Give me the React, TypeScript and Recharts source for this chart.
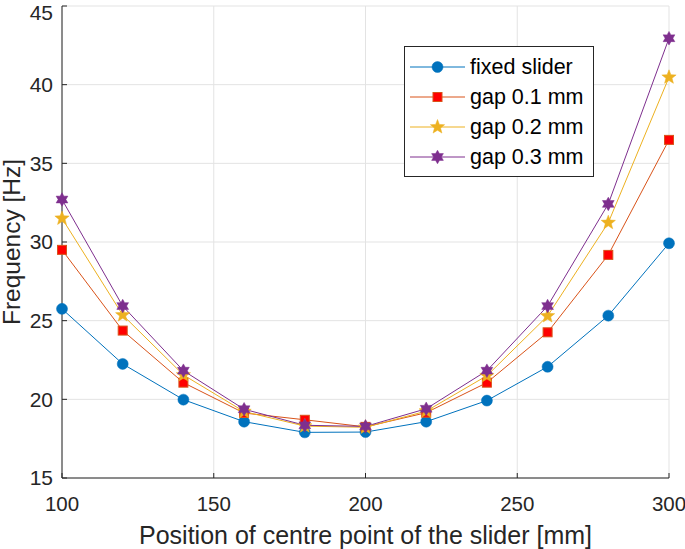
import React from "react";
import {
  LineChart,
  Line,
  XAxis,
  YAxis,
  CartesianGrid,
  Legend,
} from "recharts";

const positions = [100, 120, 140, 160, 180, 200, 220, 240, 260, 280, 300];
const fixedSlider = [25.75, 22.25, 19.98, 18.58, 17.9, 17.92, 18.58, 19.92, 22.07, 25.32, 29.92];
const gap01 = [29.5, 24.37, 21.06, 19.13, 18.7, 18.25, 19.15, 21.06, 24.26, 29.18, 36.49];
const gap02 = [31.5, 25.36, 21.55, 19.22, 18.3, 18.22, 19.25, 21.5, 25.3, 31.23, 40.47];
const gap03 = [32.7, 25.93, 21.82, 19.37, 18.35, 18.28, 19.4, 21.82, 25.93, 32.42, 42.95];

const xTicks = [100, 150, 200, 250, 300];
const yTicks = [15, 20, 25, 30, 35, 40, 45];

const seriesNames = ["fixed slider", "gap 0.1 mm", "gap 0.2 mm", "gap 0.3 mm"];

const data = positions.map((p, i) => ({
  pos: p,
  fixed: fixedSlider[i],
  g1: gap01[i],
  g2: gap02[i],
  g3: gap03[i],
}));

const FONT = "'Liberation Sans', Arial, Helvetica, sans-serif";
const AXIS = "#262626";

const BLUE = "#0072BD";
const ORANGE = "#D95319";
const YELLOW = "#EDB120";
const PURPLE = "#7E2F8E";

function starPoints(cx: number, cy: number, n: number, R: number, r: number) {
  const pts: string[] = [];
  for (let k = 0; k < n * 2; k++) {
    const rad = k % 2 === 0 ? R : r;
    const a = -Math.PI / 2 + (k * Math.PI) / n;
    pts.push(`${cx + rad * Math.cos(a)},${cy + rad * Math.sin(a)}`);
  }
  return pts.join(" ");
}

function Marker({ kind, cx, cy }: { kind: number; cx: number; cy: number }) {
  if (kind === 0) return <circle cx={cx} cy={cy} r={5.5} fill={BLUE} stroke={BLUE} strokeWidth={0.5} />;
  if (kind === 1)
    return <rect x={cx - 4.5} y={cy - 4.5} width={9} height={9} fill="#FF0000" stroke={ORANGE} strokeWidth={1} />;
  if (kind === 2) return <polygon points={starPoints(cx, cy, 5, 7.5, 3.2)} fill={YELLOW} stroke={YELLOW} strokeWidth={0.5} />;
  return <polygon points={starPoints(cx, cy, 6, 6.8, 3.9)} fill={PURPLE} stroke={PURPLE} strokeWidth={0.5} />;
}

const makeDot = (kind: number) => (props: any) => {
  const { cx, cy, index } = props;
  if (cx == null || cy == null) return <g key={`d${kind}-${index}`} />;
  return (
    <g key={`d${kind}-${index}`}>
      <Marker kind={kind} cx={cx} cy={cy} />
    </g>
  );
};

const lineColors = [BLUE, ORANGE, YELLOW, PURPLE];

function LegendBox() {
  return (
    <div
      style={{
        width: 188,
        height: 124,
        border: `1px solid ${AXIS}`,
        background: "#fff",
        fontFamily: FONT,
        fontSize: 21.5,
        color: "#000",
        paddingTop: 5,
        boxSizing: "content-box",
      }}
    >
      {seriesNames.map((name, i) => (
        <div key={name} style={{ height: 30, display: "flex", alignItems: "center", whiteSpace: "nowrap" }}>
          <svg width={64} height={30} style={{ display: "block", flexShrink: 0 }}>
            <line x1={5} x2={60} y1={15} y2={15} stroke={lineColors[i]} strokeWidth={1} />
            <Marker kind={i} cx={32.5} cy={15} />
          </svg>
          <span style={{ marginLeft: 1, lineHeight: "30px" }}>{name}</span>
        </div>
      ))}
    </div>
  );
}

export default function App() {
  return (
    <div style={{ position: "absolute", left: 0, top: 0, width: 685, height: 549, background: "#fff" }}>
      <LineChart
        width={685}
        height={549}
        data={data}
        margin={{ top: 6, right: 16, bottom: 0, left: 0 }}
        style={{ fontFamily: FONT }}
      >
        <CartesianGrid stroke="#e3e3e3" strokeWidth={1} />
        <XAxis
          dataKey="pos"
          type="number"
          domain={[100, 300]}
          ticks={xTicks}
          height={71}
          stroke={AXIS}
          tickSize={-5}
          tickMargin={23}
          tick={{ fontSize: 20.5, fill: AXIS }}
          label={{
            value: "Position of centre point of the slider [mm]",
            position: "insideBottom",
            offset: 5,
            style: { fontSize: 25, fill: AXIS },
          }}
        />
        <XAxis
          xAxisId="top"
          orientation="top"
          dataKey="pos"
          type="number"
          domain={[100, 300]}
          ticks={xTicks}
          height={0}
          stroke={AXIS}
          tickSize={-5}
          tick={false}
        />
        <YAxis
          type="number"
          domain={[15, 45]}
          ticks={yTicks}
          width={62}
          stroke={AXIS}
          tickSize={-5}
          tickMargin={14}
          tick={{ fontSize: 21, fill: AXIS }}
          label={{
            value: "Frequency [Hz]",
            angle: -90,
            position: "insideLeft",
            offset: 11,
            style: { fontSize: 24.5, fill: AXIS, textAnchor: "middle" },
          }}
        />
        <YAxis
          yAxisId="right"
          orientation="right"
          type="number"
          domain={[15, 45]}
          ticks={yTicks}
          width={0}
          stroke={AXIS}
          tickSize={-5}
          tick={false}
        />
        <Legend
          layout="vertical"
          align="center"
          verticalAlign="middle"
          wrapperStyle={{ left: 404, top: 46, width: 190, height: 126 }}
          content={() => <LegendBox />}
        />
        <Line dataKey="fixed" name={seriesNames[0]} stroke={BLUE} strokeWidth={1} dot={makeDot(0)} isAnimationActive={false} />
        <Line dataKey="g1" name={seriesNames[1]} stroke={ORANGE} strokeWidth={1} dot={makeDot(1)} isAnimationActive={false} />
        <Line dataKey="g2" name={seriesNames[2]} stroke={YELLOW} strokeWidth={1} dot={makeDot(2)} isAnimationActive={false} />
        <Line dataKey="g3" name={seriesNames[3]} stroke={PURPLE} strokeWidth={1} dot={makeDot(3)} isAnimationActive={false} />
      </LineChart>
    </div>
  );
}
